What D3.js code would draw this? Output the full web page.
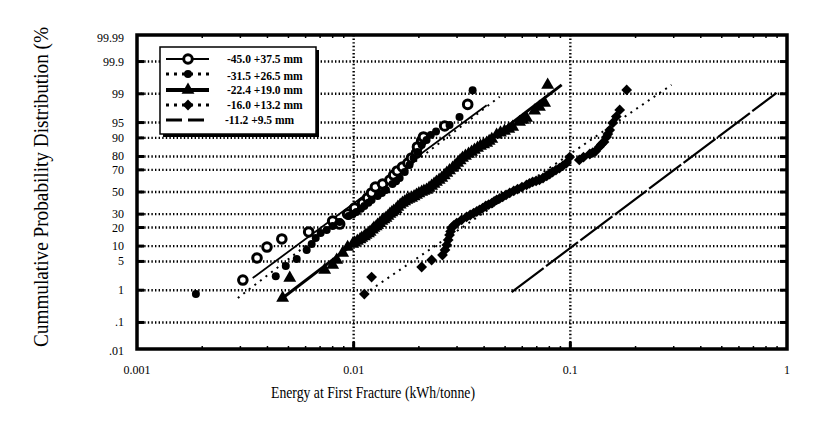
<!DOCTYPE html>
<html>
<head>
<meta charset="utf-8">
<script src="https://cdn.jsdelivr.net/npm/d3@7"></script>
<style>
  body { margin: 0; background: #fff; }
  svg { display: block; }
</style>
</head>
<body>
<script>
// axis ticks
const probTicks = [0.01, 0.1, 1, 5, 10, 20, 30, 50, 70, 80, 90, 95, 99, 99.9, 99.99];
const probLabels = [".01", ".1", "1", "5", "10", "20", "30", "50", "70", "80", "90", "95", "99", "99.9", "99.99"];
const energyTicks = [0.001, 0.01, 0.1, 1];
const energyLabels = ["0.001", "0.01", "0.1", "1"];

const seriesNames = ["-45.0 +37.5 mm", "-31.5 +26.5 mm", "-22.4 +19.0 mm", "-16.0 +13.2 mm", "-11.2 +9.5 mm"];

// measured points, energy (kWh/t) and cumulative %
const s1Energy = [0.00308, 0.00358, 0.00398, 0.00466, 0.0062, 0.0080, 0.00862, 0.00938, 0.0101, 0.0110, 0.0116, 0.0121, 0.0126, 0.0136, 0.0147, 0.0153, 0.0159, 0.0168, 0.0178, 0.0185, 0.0195, 0.0197, 0.0206, 0.0210, 0.0263, 0.0336];
const s1Prob = [1.85, 5.9, 9.6, 13.3, 17.2, 24.6, 22.4, 30.1, 35.2, 39.7, 44.4, 49.1, 54.7, 57.5, 61.2, 65.6, 69.1, 72.3, 75.4, 79.0, 82.2, 85.7, 88.7, 90.4, 94.1, 98.1];

const s2Energy = [0.00187, 0.00437, 0.00486, 0.00546, 0.00607, 0.0064, 0.00668, 0.00704, 0.00751, 0.0080, 0.00862, 0.00948, 0.0099, 0.0103, 0.0108, 0.0112, 0.0117, 0.0121, 0.0129, 0.0135, 0.0141, 0.0151, 0.0157, 0.0163, 0.0172, 0.0181, 0.0189, 0.0197, 0.0206, 0.0217, 0.0227, 0.0240, 0.0277, 0.0308, 0.0354];
const s2Prob = [0.78, 2.3, 4.0, 5.6, 8.5, 10.9, 13.8, 16.6, 18.4, 21.0, 23.9, 28.5, 30.0, 31.8, 34.5, 37.0, 40.0, 42.5, 46.2, 49.0, 51.9, 57.5, 60.0, 63.0, 68.2, 73.9, 79.0, 82.8, 86.7, 89.1, 91.2, 92.4, 94.4, 96.2, 99.2];

const s3Energy = [0.0047, 0.00507, 0.00735, 0.0080, 0.00835, 0.0089, 0.00938, 0.0099, 0.0101, 0.0104, 0.0107, 0.0109, 0.0112, 0.0114, 0.0117, 0.0119, 0.0122, 0.0124, 0.0127, 0.0129, 0.0132, 0.0135, 0.0138, 0.0141, 0.0144, 0.0147, 0.0150, 0.0153, 0.0157, 0.0160, 0.0164, 0.0168, 0.0172, 0.0176, 0.0180, 0.0185, 0.0190, 0.0195, 0.0200, 0.0206, 0.0211, 0.0217, 0.0223, 0.0229, 0.0235, 0.0241, 0.0248, 0.0255, 0.0262, 0.0269, 0.0277, 0.0286, 0.0294, 0.0302, 0.0310, 0.0318, 0.0328, 0.0339, 0.0350, 0.0361, 0.0373, 0.0385, 0.0398, 0.0411, 0.0422, 0.0434, 0.0457, 0.0476, 0.0497, 0.0520, 0.0542, 0.0583, 0.0605, 0.0628, 0.0684, 0.0720, 0.0761, 0.0786];
const s3Prob = [0.60, 2.08, 3.23, 4.18, 5.36, 7.42, 9.6, 10.9, 11.5, 12.3, 13.0, 13.8, 14.6, 15.4, 16.2, 17.2, 18.5, 19.7, 20.6, 21.7, 23.0, 24.6, 25.8, 26.9, 28.4, 30.1, 31.4, 32.6, 34.2, 36.1, 38.0, 39.7, 41.0, 42.5, 43.5, 44.4, 45.8, 47.2, 48.6, 50.0, 51.0, 51.9, 53.8, 55.6, 57.5, 59.4, 61.2, 63.0, 65.2, 67.4, 69.5, 71.5, 73.5, 75.4, 77.2, 79.0, 80.3, 81.6, 82.8, 84.0, 85.1, 86.2, 87.0, 87.7, 88.6, 89.5, 91.2, 92.0, 92.6, 93.2, 93.8, 95.1, 95.6, 96.0, 97.3, 97.8, 98.25, 99.44];

const s4Energy = [0.0112, 0.0121, 0.0206, 0.0229, 0.0257, 0.0264, 0.0269, 0.0273, 0.0277, 0.0280, 0.0283, 0.0290, 0.0299, 0.0315, 0.0332, 0.0345, 0.0358, 0.0370, 0.0381, 0.0394, 0.0407, 0.0420, 0.0434, 0.0445, 0.0457, 0.0472, 0.0487, 0.0505, 0.0525, 0.0548, 0.0571, 0.0598, 0.0628, 0.0648, 0.0670, 0.0695, 0.0720, 0.0748, 0.0778, 0.0803, 0.0828, 0.0858, 0.0891, 0.0925, 0.0960, 0.0993, 0.110, 0.115, 0.123, 0.127, 0.131, 0.136, 0.139, 0.143, 0.147, 0.149, 0.152, 0.157, 0.163, 0.169, 0.182];
const s4Prob = [0.78, 2.2, 3.78, 5.36, 6.77, 8.5, 10.5, 12.8, 15.4, 17.5, 19.7, 21.5, 23.1, 25.5, 27.7, 29.3, 30.9, 32.2, 33.5, 35.2, 37.0, 38.3, 39.7, 41.1, 42.5, 43.9, 45.3, 47.2, 49.1, 51.0, 52.8, 54.7, 56.6, 58.0, 59.4, 60.3, 61.2, 63.0, 64.8, 66.5, 68.2, 69.8, 71.5, 73.4, 75.4, 79.6, 77.6, 79.5, 81.6, 82.5, 83.4, 85.7, 87.0, 88.2, 90.4, 91.5, 92.9, 94.9, 96.3, 97.4, 99.22];

// fitted lines, [start, end]
const fitEnergy = [[0.00342, 0.0411], [0.00292, 0.0472], [0.0047, 0.0912], [0.0112, 0.293], [0.0536, 0.895]];
const fitProb = [[2.08, 98.0], [0.6, 98.8], [0.6, 99.44], [0.78, 99.44], [0.89, 99.05]];

const pointEnergy = [s1Energy, s2Energy, s3Energy, s4Energy, []];
const pointProb = [s1Prob, s2Prob, s3Prob, s4Prob, []];

const W = 819, H = 423;
const mLeft = 137, mRight = 787, mTop = 35, mBottom = 349;

// inverse normal cdf (Acklam)
function probit(p) {
  const a = [-39.69683028665376, 220.9460984245205, -275.9285104469687, 138.3577518672690, -30.66479806614716, 2.506628277459239];
  const b = [-54.47609879822406, 161.5858368580409, -155.6989798598866, 66.80131188771972, -13.28068155288572];
  const c = [-0.007784894002430293, -0.3223964580411365, -2.400758277161838, -2.549732539343734, 4.374664141464968, 2.938163982698783];
  const d = [0.007784695709041462, 0.3224671290700398, 2.445134137142996, 3.754408661907416];
  const pl = 0.02425;
  let q, r;
  if (p < pl) {
    q = Math.sqrt(-2 * Math.log(p));
    return (((((c[0]*q+c[1])*q+c[2])*q+c[3])*q+c[4])*q+c[5]) / ((((d[0]*q+d[1])*q+d[2])*q+d[3])*q+1);
  }
  if (p > 1 - pl) {
    q = Math.sqrt(-2 * Math.log(1 - p));
    return -(((((c[0]*q+c[1])*q+c[2])*q+c[3])*q+c[4])*q+c[5]) / ((((d[0]*q+d[1])*q+d[2])*q+d[3])*q+1);
  }
  q = p - 0.5; r = q * q;
  return (((((a[0]*r+a[1])*r+a[2])*r+a[3])*r+a[4])*r+a[5])*q / (((((b[0]*r+b[1])*r+b[2])*r+b[3])*r+b[4])*r+1);
}

const x = d3.scaleLog().domain([0.001, 1]).range([mLeft, mRight]);
const zScale = d3.scaleLinear().domain([probit(0.0001), probit(0.9999)]).range([mBottom, mTop]);
const y = p => zScale(probit(p / 100));

const svg = d3.select('body').append('svg')
  .attr('width', W)
  .attr('height', H)
  .style('font-family', '"Liberation Serif", "Times New Roman", serif');

// grid
const grid = svg.append('g');
grid.selectAll('line.h')
  .data(probTicks.slice(1, -1))
  .enter().append('line')
  .attr('x1', mLeft).attr('x2', mRight)
  .attr('y1', d => y(d)).attr('y2', d => y(d))
  .attr('stroke', '#000')
  .attr('stroke-width', 2.4)
  .attr('stroke-dasharray', '1.4,2.2');
grid.selectAll('line.v')
  .data(energyTicks.slice(1, -1))
  .enter().append('line')
  .attr('x1', d => x(d)).attr('x2', d => x(d))
  .attr('y1', mTop).attr('y2', mBottom)
  .attr('stroke', '#000')
  .attr('stroke-width', 2.4)
  .attr('stroke-dasharray', '1.4,2.2');

// tick stubs on left and right borders
grid.selectAll('line.tl')
  .data(probTicks.slice(1, -1))
  .enter().append('line')
  .attr('x1', mLeft).attr('x2', mLeft + 7)
  .attr('y1', d => y(d)).attr('y2', d => y(d))
  .attr('stroke', '#000').attr('stroke-width', 3);
grid.selectAll('line.tr')
  .data(probTicks.slice(1, -1))
  .enter().append('line')
  .attr('x1', mRight - 7).attr('x2', mRight)
  .attr('y1', d => y(d)).attr('y2', d => y(d))
  .attr('stroke', '#000').attr('stroke-width', 3);

// minor ticks on top and bottom
const minor = [];
[0.001, 0.01, 0.1].forEach(dec => { for (let k = 2; k <= 9; k++) minor.push(dec * k); });
grid.selectAll('line.mb')
  .data(minor)
  .enter().append('line')
  .attr('x1', d => x(d)).attr('x2', d => x(d))
  .attr('y1', mBottom).attr('y2', mBottom - 3)
  .attr('stroke', '#000').attr('stroke-width', 1.5);
grid.selectAll('line.mt')
  .data(minor)
  .enter().append('line')
  .attr('x1', d => x(d)).attr('x2', d => x(d))
  .attr('y1', mTop).attr('y2', mTop + 3)
  .attr('stroke', '#000').attr('stroke-width', 1.5);
grid.selectAll('line.vt')
  .data(energyTicks.slice(1, -1))
  .enter().append('line')
  .attr('x1', d => x(d)).attr('x2', d => x(d))
  .attr('y1', mBottom).attr('y2', mBottom - 7)
  .attr('stroke', '#000').attr('stroke-width', 3);

// frame
svg.append('rect')
  .attr('x', mLeft).attr('y', mTop)
  .attr('width', mRight - mLeft).attr('height', mBottom - mTop)
  .attr('fill', 'none').attr('stroke', '#000').attr('stroke-width', 3.5);

// tick labels
svg.append('g').selectAll('text')
  .data(probTicks)
  .enter().append('text')
  .attr('x', 124)
  .attr('y', (d, i) => y(d) + 4 + (i === 0 ? 2 : 0) + (i === probTicks.length - 1 ? 3 : 0))
  .attr('text-anchor', 'end')
  .attr('font-size', 12)
  .text((d, i) => probLabels[i]);

svg.append('g').selectAll('text')
  .data(energyTicks)
  .enter().append('text')
  .attr('x', d => x(d))
  .attr('y', 374)
  .attr('text-anchor', 'middle')
  .attr('font-size', 12)
  .text((d, i) => energyLabels[i]);

// axis titles
svg.append('text')
  .attr('x', 373).attr('y', 398)
  .attr('text-anchor', 'middle')
  .attr('font-size', 17)
  .attr('textLength', 204)
  .attr('lengthAdjust', 'spacingAndGlyphs')
  .text('Energy at First Fracture (kWh/tonne)');

svg.append('text')
  .attr('transform', 'translate(48,187) rotate(-90)')
  .attr('text-anchor', 'middle')
  .attr('font-size', 20)
  .attr('textLength', 320)
  .attr('lengthAdjust', 'spacingAndGlyphs')
  .text('Cummulative Probability Distribution (%');

// line styles per series
const lineWidth = [1.8, 2, 3, 2, 2.2];
const lineDash = [null, '2,5', null, '2,5', '40,3'];

const fits = svg.append('g');
fitEnergy.forEach((fe, i) => {
  fits.append('line')
    .attr('x1', x(fe[0])).attr('y1', y(fitProb[i][0]))
    .attr('x2', x(fe[1])).attr('y2', y(fitProb[i][1]))
    .attr('stroke', '#000')
    .attr('stroke-width', lineWidth[i])
    .attr('stroke-dasharray', lineDash[i]);
});

// markers
function marker(sel, i) {
  if (i === 0) {
    sel.append('path').attr('d', d3.symbol(d3.symbolCircle, 58)())
      .attr('fill', '#fff').attr('stroke', '#000').attr('stroke-width', 3);
  } else if (i === 1) {
    sel.append('path').attr('d', d3.symbol(d3.symbolCircle, 50)()).attr('fill', '#000');
  } else if (i === 2) {
    sel.append('path').attr('d', d3.symbol(d3.symbolTriangle, 72)()).attr('fill', '#000');
  } else if (i === 3) {
    sel.append('path').attr('d', d3.symbol(d3.symbolSquare, 58)())
      .attr('transform', 'rotate(45)').attr('fill', '#000');
  }
}

pointEnergy.forEach((arr, i) => {
  const g = svg.append('g');
  g.selectAll('g')
    .data(arr)
    .enter().append('g')
    .attr('transform', (d, j) => `translate(${x(d)},${y(pointProb[i][j])})`)
    .each(function () { marker(d3.select(this), i); });
});

// legend
const lg = svg.append('g');
lg.append('rect')
  .attr('x', 163).attr('y', 50).attr('width', 156).attr('height', 87)
  .attr('fill', '#000');
lg.append('rect')
  .attr('x', 160).attr('y', 47).attr('width', 156).attr('height', 87)
  .attr('fill', '#fff').attr('stroke', '#000').attr('stroke-width', 1.5);

const legendY = [59, 74, 90, 105, 120];
const legendTextX = [227, 227, 227, 227, 225];
seriesNames.forEach((name, i) => {
  const row = lg.append('g');
  row.append('line')
    .attr('x1', 166).attr('x2', 209)
    .attr('y1', legendY[i]).attr('y2', legendY[i])
    .attr('stroke', '#000')
    .attr('stroke-width', i === 2 ? 4 : (i === 0 ? 2 : 3))
    .attr('stroke-dasharray', i === 1 || i === 3 ? '3,5' : (i === 4 ? '16,6' : null));
  const m = row.append('g').attr('transform', `translate(188,${legendY[i]})`);
  marker(m, i);
  row.append('text')
    .attr('x', legendTextX[i])
    .attr('y', legendY[i] + 4 + (i === 1 ? 2 : 0))
    .attr('font-size', 11.5)
    .attr('font-weight', 'bold')
    .text(name);
});
</script>
</body>
</html>
